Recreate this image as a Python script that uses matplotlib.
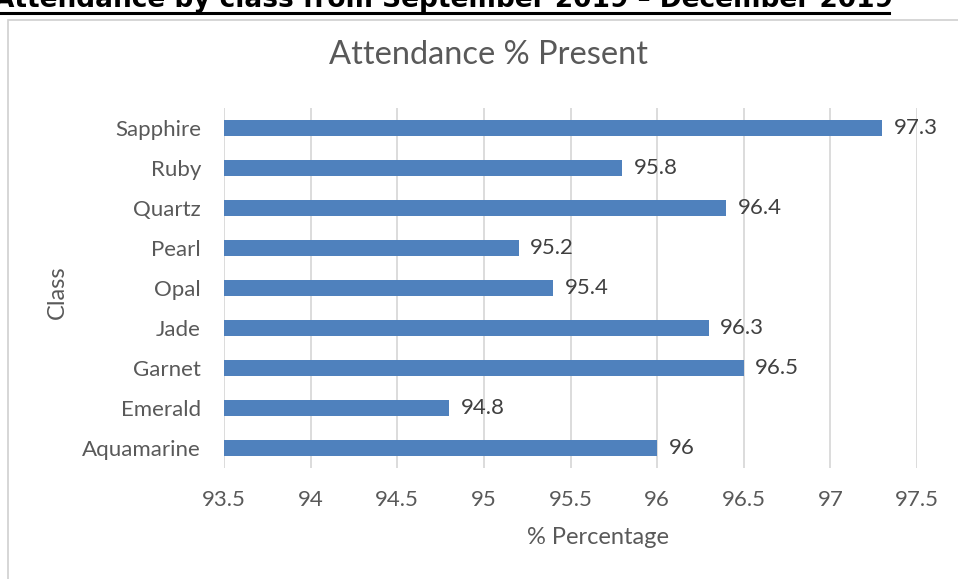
import matplotlib
matplotlib.use("Agg")
import matplotlib.pyplot as plt
from matplotlib.patches import Rectangle
from matplotlib.lines import Line2D

classes = ["Aquamarine", "Emerald", "Garnet", "Jade", "Opal", "Pearl", "Quartz", "Ruby", "Sapphire"]
attendance = [96.0, 94.8, 96.5, 96.3, 95.4, 95.2, 96.4, 95.8, 97.3]
value_labels = ["96", "94.8", "96.5", "96.3", "95.4", "95.2", "96.4", "95.8", "97.3"]
x_ticks = [93.5, 94, 94.5, 95, 95.5, 96, 96.5, 97, 97.5]
x_tick_labels = ["93.5", "94", "94.5", "95", "95.5", "96", "96.5", "97", "97.5"]

plt.rcParams['font.family'] = ['Lato', 'DejaVu Sans']
W, H = 958, 579
fig = plt.figure(figsize=(W / 100, H / 100), dpi=100)
fig.patch.set_facecolor("white")

# chart border
fig.patches.append(Rectangle((8 / W, -5 / H), (W - 8 + 10) / W, (H - 20 + 5) / H,
                             transform=fig.transFigure, fill=False,
                             edgecolor="#d0d0d0", linewidth=1.2))

# header text (cut off at the top edge, as in the reference)
fig.text(-6 / W, 1 - 7 / H, "Attendance by class from September 2019 – December 2019",
         fontsize=19, fontweight="bold", color="black", ha="left", va="baseline",
         family=["DejaVu Sans"])
fig.lines.append(Line2D([0, 889 / W], [1 - 13 / H, 1 - 13 / H], transform=fig.transFigure,
                        color="black", linewidth=2.2))

ax = fig.add_axes([224 / W, 1 - 468 / H, 693 / W, 360 / H])
text_color = "#595959"
ax.barh(range(len(classes)), [v - 93.5 for v in attendance], left=93.5, height=0.42,
        color="#4F81BD", zorder=3)
for i, (v, lab) in enumerate(zip(attendance, value_labels)):
    ax.text(v + 0.065, i, lab, va="center", ha="left", fontsize=16, color="#404040", zorder=4)

ax.set_xlim(93.5, 97.5)
ax.set_ylim(-0.5, len(classes) - 0.5)
ax.set_xticks(x_ticks)
ax.set_xticklabels(x_tick_labels)
ax.set_yticks(range(len(classes)))
ax.set_yticklabels(classes)
ax.tick_params(axis="both", length=0, labelsize=16, labelcolor=text_color)
ax.tick_params(axis="x", pad=16)
ax.tick_params(axis="y", pad=16.5)
ax.grid(axis="x", color="#d9d9d9", linewidth=1.3, zorder=0)
for s in ax.spines.values():
    s.set_visible(False)

ax.set_xlabel("% Percentage", fontsize=17, color=text_color, va="center", ha="center")
ax.xaxis.set_label_coords((598 - 224) / 693, (468 - 537) / 360)
ax.set_ylabel("Class", fontsize=17, color=text_color, va="center", ha="center")
ax.yaxis.set_label_coords((57 - 224) / 693, (468 - 292) / 360)

fig.text(488 / W, 1 - 55 / H, "Attendance % Present", fontsize=23.5, color=text_color,
         ha="center", va="center")

fig.savefig("out.png", dpi=100, facecolor="white")
